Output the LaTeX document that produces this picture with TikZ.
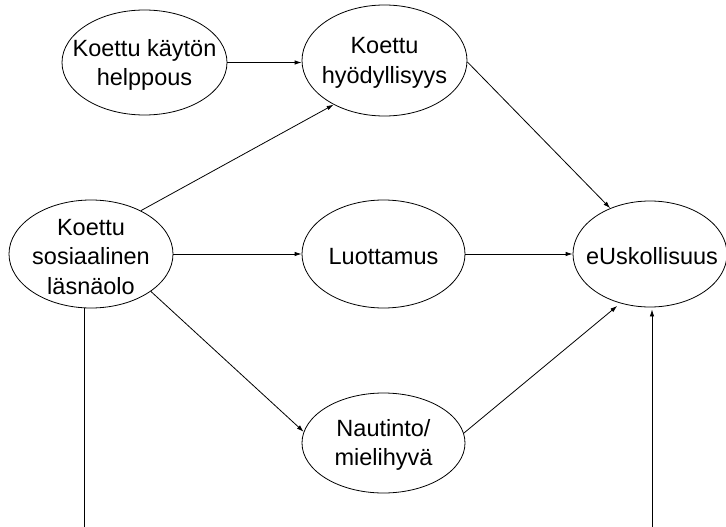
\documentclass[tikz,border=0pt]{standalone}
\usepackage{fontspec}
\setmainfont{Liberation Sans}
\usetikzlibrary{shapes.geometric,arrows.meta,calc}

\begin{document}
\begin{tikzpicture}[x=1pt,y=-1pt,
  oval/.style={draw, ellipse, line width=0.8pt, inner sep=0pt},
  lbl/.style={align=center, inner sep=0pt, font=\fontsize{23.5}{29.5}\selectfont},
  link/.style={line width=0.8pt},
  arr/.style={link, -{Latex[length=7pt,width=4.5pt]}}]

% canvas
\useasboundingbox (0,0) rectangle (726,527);

% constructs
\node[oval, minimum width=165pt, minimum height=105pt] (peou)  at (144.5,62.5) {};
\node[oval, minimum width=165pt, minimum height=111pt] (pu)    at (384.5,60.5) {};
\node[oval, minimum width=164pt, minimum height=108pt] (soc)   at (91,254) {};
\node[oval, minimum width=163pt, minimum height=108pt] (trust) at (383.5,254) {};
\node[oval, minimum width=154pt, minimum height=106pt] (loyal) at (650,254) {};
\node[oval, minimum width=163pt, minimum height=100pt] (enjoy) at (383.5,443) {};

% labels
\node[lbl] (peou-t)  at (144.5,65)  {Koettu käytön\\helppous};
\node[lbl] (pu-t)    at (384.5,63)  {Koettu\\hyödyllisyys};
\node[lbl] (soc-t)   at (91,257)    {Koettu\\sosiaalinen\\läsnäolo};
\node[lbl] (trust-t) at (383.5,256.5) {Luottamus};
\node[lbl] (loyal-t) at (652,256.5) {eUskollisuus};
\node[lbl] (enjoy-t) at (383.5,445) {Nautinto/\\mielihyvä};

% free ends at the lower edge
\coordinate (sb) at (84,527);
\coordinate (lb) at (652,527);

% paths
\draw[arr] (peou.east) -- (peou.east -| pu.west);
\draw[arr] (soc.41) -- (pu.221.6);
\draw[arr] (pu.-1) -- (loyal.131.7);
\draw[arr] (soc.east) -- (trust.west);
\draw[arr] (trust.east) -- (loyal.west);
\draw[arr] (soc.328) -- (enjoy.172.3);
\draw[arr, shorten >=4pt] (enjoy.7.7) -- (loyal.239.4);
\draw[link] (sb |- soc.south) -- (sb);
\draw[arr, shorten >=2pt] (lb) -- (lb |- loyal.south);
\end{tikzpicture}
\end{document}
